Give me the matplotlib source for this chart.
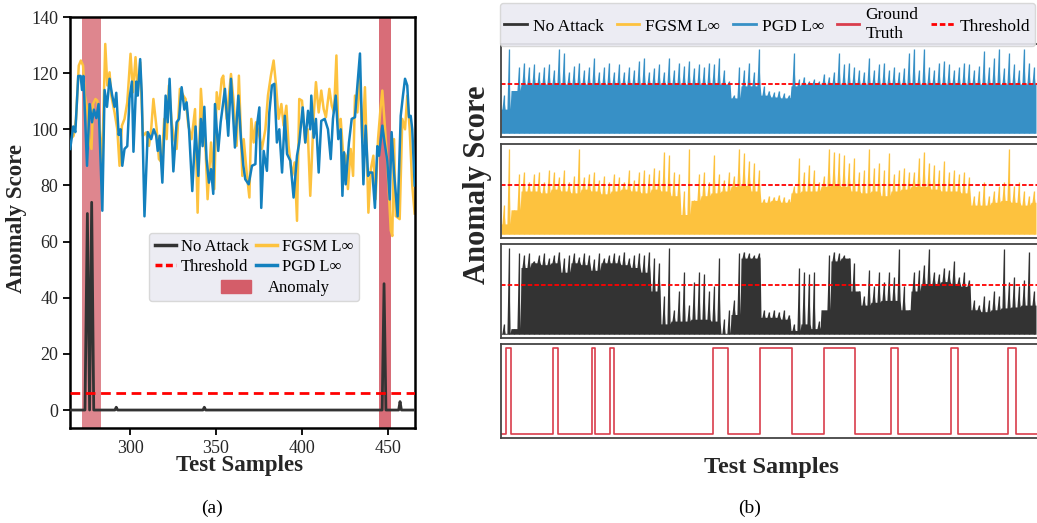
import numpy as np
import matplotlib.pyplot as plt
from matplotlib.lines import Line2D
from matplotlib.patches import Patch

plt.rcParams['font.family'] = ['Liberation Serif', 'DejaVu Serif']

# ---------------- panel (a): samples 265-466 ----------------
no_attack = [(265, 0), (273.8, 0), (275.2, 70), (276.5, 0), (277.7, 74), (278.9, 0),
             (291.2, 0), (292, 1), (292.8, 0), (342.4, 0), (343.2, 1), (344, 0),
             (446.6, 0), (447.7, 45), (448.8, 0), (456.2, 0), (457, 3), (457.8, 0), (467, 0)]

fgsm_a = [(265.5, 96.5), (267.2, 97.7), (268.6, 103.7), (270.2, 122.7), (271.4, 124.5), (272.7, 122.7),
          (273.7, 112), (275.2, 107.2), (276.2, 96.5), (277.6, 93), (278.5, 109), (279.9, 110.8),
          (281.0, 110.2), (282.4, 100), (283.7, 85.8), (285.6, 130.4), (286.8, 115.6), (288.1, 120.3),
          (289.1, 112), (291.0, 106), (292.6, 100), (293.9, 87), (295.3, 101.3), (296.8, 103.7),
          (298.4, 109.6), (300.3, 126.9), (301.7, 113.2), (303.2, 125.7), (304.5, 113.2), (305.9, 123.9),
          (307.5, 97.7), (309.4, 98.9), (311.0, 94.1), (312.3, 100), (313.6, 110.8), (315.5, 100),
          (316.8, 89.4), (318.4, 88.2), (319.9, 103.7), (321.3, 96.5), (322.6, 115.6), (324.2, 102.5),
          (325.7, 96.5), (327.1, 93), (329.0, 114.4), (331.0, 112), (332.3, 110.8), (333.9, 101.3),
          (335.8, 96.5), (337.8, 107.2), (339.3, 70.3), (341.2, 114.4), (342.6, 101.3), (344.0, 91.8),
          (345.1, 75.1), (347.1, 95.3), (349.0, 78.7), (350.4, 113.2), (351.7, 107.2), (353.3, 118),
          (354.2, 119.1), (356.2, 103.7), (358.7, 119.7), (360.1, 110.8), (362.0, 94.1), (363.3, 119.1),
          (365.3, 83.4), (366.1, 96.5), (368.0, 83.4), (369.4, 75.7), (370.5, 103.7), (371.9, 95.3),
          (373.2, 102.5), (374.8, 98.9), (376.7, 93), (378.7, 100), (380.2, 112), (381.9, 119.1),
          (383.5, 124.5), (384.9, 115.6), (386.4, 103.7), (388.0, 109), (389.3, 101.3), (390.9, 108.4),
          (392.2, 94.1), (394.2, 83.4), (395.7, 88.2), (397.1, 67.4), (398.4, 110.8), (400.0, 110.2),
          (401.9, 95.3), (403.3, 100), (404.8, 76.3), (406.8, 104.8), (408.1, 116.8), (409.7, 106),
          (411.2, 113.8), (412.6, 107.2), (413.9, 104.3), (415.9, 114.4), (417.3, 108.4), (418.6, 106),
          (420.0, 126.3), (421.1, 100), (422.5, 103.7), (423.8, 92.3), (425.4, 90.6), (426.7, 78.7),
          (428.3, 93), (429.7, 83.4), (430.8, 112), (432.2, 106), (433.5, 120.3), (435.1, 95.3),
          (436.6, 115), (437.6, 94.1), (438.6, 70.3), (440.0, 85.8), (441.5, 90.6), (442.8, 75.1),
          (444.2, 96.5), (445.7, 107.8), (446.7, 113.8), (448.3, 100), (449.6, 88.2), (451.6, 64),
          (452.5, 62), (453.5, 96.5), (454.5, 69.1), (456.8, 68), (458.3, 103.7), (459.9, 100),
          (461.2, 112), (462.6, 100), (464.1, 80), (465.5, 70)]

pgd_a = [(265.2, 93), (267.0, 101), (268.2, 99), (269.9, 119), (271.3, 119), (272.1, 114),
         (272.9, 119), (275.0, 87), (276.5, 109), (277.9, 102.5), (279.0, 107), (280.4, 104),
         (281.7, 109), (283.9, 71), (285.2, 114), (286.6, 108), (288.1, 118), (289.5, 112.5),
         (291.0, 108), (292.0, 113), (293.4, 98), (294.5, 100), (295.5, 87), (296.8, 93),
         (298.4, 94), (299.7, 111), (301.1, 117), (302.0, 92), (303.6, 117), (304.5, 112),
         (305.9, 125), (306.8, 113), (308.4, 69), (310.3, 99), (312.3, 96.5), (313.8, 100),
         (315.2, 97.7), (316.1, 92.3), (317.2, 97.7), (318.8, 81), (320.7, 112), (321.9, 102.5),
         (323.0, 118), (325.2, 85), (327.1, 102.5), (328.5, 103.7), (330.0, 115), (331.6, 107),
         (332.9, 109.6), (334.3, 100), (336.2, 78), (338.1, 101), (339.7, 83.4), (341.2, 103.7),
         (342.2, 94), (343.2, 108), (344.5, 89.4), (345.9, 81), (347.1, 85.8), (348.4, 77),
         (349.4, 109), (351.3, 92.3), (352.7, 102.5), (355.2, 114.4), (357.1, 97.7), (358.7, 118),
         (361.0, 93.5), (363.0, 112), (364.5, 96.5), (365.9, 87), (367.0, 82.2), (369.0, 80.4),
         (370.9, 87), (372.9, 87.6), (373.8, 101.3), (375.2, 107.8), (376.3, 72), (377.7, 92.3),
         (379.6, 85.2), (381.0, 106), (382.5, 115.6), (383.9, 116.2), (385.4, 95.3), (386.8, 100),
         (388.4, 84.6), (390.0, 104.8), (391.3, 91.2), (393.2, 88.8), (395.1, 75.7), (397.1, 90.6),
         (398.4, 95.3), (400.4, 107.8), (401.9, 95.3), (403.5, 106.6), (404.8, 100), (405.4, 112),
         (406.8, 97), (408.1, 103.7), (409.7, 84.6), (411.2, 103), (413.2, 103.7), (415.1, 100),
         (416.7, 89.4), (418.0, 103.7), (419.6, 112), (421.1, 96.5), (422.5, 100), (423.5, 76.3),
         (424.4, 91.8), (425.4, 80.4), (427.3, 95.3), (428.9, 103.7), (430.8, 104.3), (432.2, 115.6),
         (433.7, 127), (435.7, 80.4), (437.0, 101.3), (438.4, 83.4), (439.3, 84.6), (440.9, 84.6),
         (442.4, 72), (443.8, 94), (444.8, 90.6), (446.7, 101.3), (448.0, 95.3), (449.6, 88.8),
         (451.0, 75), (452.1, 99), (453.5, 84.6), (455.6, 69), (457.4, 104.8), (458.7, 112),
         (459.9, 118), (461.2, 115.6), (462.2, 104.3), (463.2, 104.8), (464.1, 100), (465.5, 80)]

threshold_a = 6
anomaly_a = [(272, 283), (444.5, 452)]

# ---------------- panel (b): whole test set ----------------
# scores normalised to [0, 1]; peaks every 25 samples, dense body level every 50 samples
pgd_peak = [0.45, 0.95, 0.35, 0.75, 0.8, 0.75, 0.78, 0.7, 0.75, 0.78, 0.72, 0.95, 0.9, 0.7, 0.76,
            0.8, 0.72, 0.75, 0.85, 0.7, 0.75, 0.8, 0.7, 0.78, 0.7, 0.75, 0.72, 0.82, 0.85, 0.7,
            0.74, 0.78, 0.7, 0.85, 0.72, 0.8, 0.76, 0.82, 0.74, 0.78, 0.75, 0.8, 0.78, 0.85, 0.72,
            0.6, 0.45, 0.75, 0.72, 0.8, 0.7, 0.95, 0.55, 0.5, 0.48, 0.5, 0.47, 0.45, 0.9, 0.62,
            0.65, 0.6, 0.62, 0.6, 0.68, 0.65, 0.7, 0.9, 0.78, 0.8, 0.75, 0.72, 0.7, 0.85, 0.72,
            0.78, 0.8, 0.72, 0.75, 0.7, 0.74, 0.9, 0.95, 0.72, 0.95, 0.75, 0.72, 0.8, 0.82, 0.78,
            0.72, 0.75, 0.8, 0.78, 0.72, 0.76, 0.92, 0.75, 0.85, 0.95, 0.74, 0.9, 0.78, 0.72, 0.95,
            0.8, 0.75]
pgd_body = [0.3, 0.5, 0.57, 0.57, 0.57, 0.57, 0.57, 0.57, 0.57, 0.57, 0.57, 0.57, 0.57, 0.57,
            0.57, 0.57, 0.57, 0.57, 0.57, 0.57, 0.57, 0.57, 0.57, 0.42, 0.55, 0.55, 0.45, 0.43,
            0.42, 0.55, 0.57, 0.57, 0.57, 0.57, 0.57, 0.57, 0.57, 0.57, 0.57, 0.57, 0.57, 0.57,
            0.57, 0.57, 0.57, 0.57, 0.57, 0.57, 0.57, 0.57, 0.57, 0.57, 0.57, 0.57]

fgsm_peak = [0.35, 0.95, 0.3, 0.68, 0.7, 0.6, 0.68, 0.7, 0.6, 0.72, 0.7, 0.65, 0.72, 0.6, 0.66,
             0.95, 0.65, 0.68, 0.7, 0.62, 0.66, 0.6, 0.68, 0.65, 0.6, 0.72, 0.62, 0.7, 0.72, 0.68,
             0.75, 0.72, 0.92, 0.88, 0.7, 0.68, 0.5, 0.95, 0.4, 0.68, 0.7, 0.6, 0.88, 0.68, 0.62,
             0.7, 0.66, 0.95, 0.9, 0.82, 0.8, 0.72, 0.42, 0.45, 0.44, 0.46, 0.44, 0.42, 0.55, 0.85,
             0.7, 0.78, 0.72, 0.6, 0.66, 0.95, 0.92, 0.9, 0.88, 0.8, 0.85, 0.7, 0.72, 0.95, 0.75,
             0.8, 0.72, 0.9, 0.68, 0.72, 0.74, 0.7, 0.7, 0.85, 0.92, 0.8, 0.78, 0.72, 0.82, 0.7,
             0.72, 0.68, 0.7, 0.65, 0.45, 0.5, 0.6, 0.45, 0.5, 0.55, 0.6, 0.95, 0.55, 0.6, 0.5,
             0.45, 0.5]
fgsm_body = [0.15, 0.3, 0.5, 0.5, 0.48, 0.52, 0.5, 0.48, 0.52, 0.5, 0.47, 0.5, 0.52, 0.5, 0.48,
             0.52, 0.5, 0.45, 0.25, 0.4, 0.45, 0.48, 0.5, 0.55, 0.56, 0.5, 0.38, 0.4, 0.38, 0.48,
             0.5, 0.5, 0.55, 0.56, 0.55, 0.5, 0.48, 0.5, 0.45, 0.5, 0.52, 0.55, 0.55, 0.52, 0.5,
             0.5, 0.48, 0.35, 0.35, 0.38, 0.4, 0.38, 0.35, 0.38]

clean_peak = [0.15, 0.96, 0.1, 0.9, 0.88, 0.9, 0.82, 0.88, 0.9, 0.85, 0.88, 0.92, 0.85, 0.88, 0.9,
              0.86, 0.9, 0.88, 0.84, 0.9, 0.85, 0.88, 0.9, 0.88, 0.92, 0.85, 0.88, 0.9, 0.88, 0.92,
              0.85, 0.8, 0.45, 0.96, 0.3, 0.5, 0.7, 0.35, 0.6, 0.7, 0.68, 0.5, 0.55, 0.85, 0.2,
              0.3, 0.4, 0.9, 0.92, 0.9, 0.88, 0.9, 0.3, 0.28, 0.3, 0.28, 0.3, 0.25, 0.15, 0.75,
              0.7, 0.68, 0.7, 0.18, 0.2, 0.88, 0.92, 0.9, 0.88, 0.85, 0.8, 0.5, 0.45, 0.72, 0.55,
              0.7, 0.6, 0.7, 0.65, 0.95, 0.55, 0.3, 0.7, 0.72, 0.78, 0.95, 0.7, 0.68, 0.75, 0.72,
              0.82, 0.65, 0.7, 0.62, 0.4, 0.35, 0.45, 0.4, 0.5, 0.45, 0.95, 0.6, 0.65, 0.55, 0.62,
              0.92, 0.5]
clean_body = [0.05, 0.1, 0.75, 0.8, 0.78, 0.8, 0.7, 0.8, 0.78, 0.72, 0.8, 0.8, 0.78, 0.75, 0.7,
              0.5, 0.15, 0.18, 0.18, 0.2, 0.2, 0.18, 0.05, 0.25, 0.85, 0.85, 0.22, 0.22, 0.2, 0.08,
              0.15, 0.1, 0.3, 0.82, 0.85, 0.5, 0.35, 0.38, 0.4, 0.4, 0.3, 0.5, 0.58, 0.58, 0.6,
              0.58, 0.55, 0.3, 0.28, 0.3, 0.32, 0.33, 0.35, 0.35]

score_floor = 0.04
threshold_b = [0.57, 0.56, 0.565]
gt_segments = [(27, 49.5), (259, 283.5), (456, 472), (547, 562.5), (1061.5, 1136.5),
               (1293.5, 1452.5), (1614.5, 1771.5), (1951.5, 1986), (2251.5, 2283), (2535.5, 2576)]
n_samples = 2695
peak_step, body_step = 25, 50

C_BLUE = '#1380be'
C_BLUE_B = '#3790c6'
C_YEL = '#fdc23e'
C_BLACK = '#333333'
C_SPAN = '#d45d69'
C_GT = '#d93d4c'
C_TXT = '#262626'

W, H = 1037, 523
fig = plt.figure(figsize=(W / 100, H / 100), dpi=100)


def box(l, t, r, b):
    return [l / W, 1 - b / H, (r - l) / W, (b - t) / H]


# ---- (a) ----
ax = fig.add_axes(box(70, 17, 415, 428))
for (s, e), a in zip(anomaly_a, (0.75, 0.9)):
    ax.axvspan(s, e, color=C_SPAN, alpha=a, lw=0, zorder=1)
x, y = np.array(fgsm_a).T
ax.plot(x, y, color=C_YEL, lw=1.8, zorder=2)
x, y = np.array(pgd_a).T
ax.plot(x, y, color=C_BLUE, lw=1.8, zorder=3)
x, y = np.array(no_attack).T
ax.plot(x, y, color=C_BLACK, lw=2.0, zorder=4)
ax.axhline(threshold_a, color='red', lw=2.0, ls=(0, (3.5, 2)), zorder=5)
ax.set_xlim(265.1, 465.7)
ax.set_ylim(-6.4, 140)
ax.set_xticks([300, 350, 400, 450])
ax.set_yticks(range(0, 141, 20))
ax.tick_params(direction='out', length=5, width=1.3, labelsize=13, labelcolor=C_TXT)
for sp in ax.spines.values():
    sp.set_linewidth(1.8)

blank = Line2D([], [], alpha=0)
h1 = [Line2D([], [], color=C_BLACK, lw=2.5), Line2D([], [], color='red', lw=2.5, ls=(0, (2, 1))), blank,
      Line2D([], [], color=C_YEL, lw=2.5), Line2D([], [], color=C_BLUE, lw=2.5), blank]
l1 = ['No Attack', 'Threshold', ' ', 'FGSM L∞', 'PGD L∞', ' ']
leg = ax.legend(h1, l1, ncol=2, loc='upper left', bbox_to_anchor=((149 - 70) / 345, (428 - 233) / 411),
                borderaxespad=0, fontsize=12, handlelength=1.25, handletextpad=0.3, columnspacing=0.45,
                labelspacing=0.25, borderpad=0.35, facecolor='#eaeaf2', edgecolor='#d5d5d5', framealpha=0.9)
ax.add_artist(leg)
ax.legend([Patch(color=C_SPAN)], ['Anomaly'], loc='center left',
          bbox_to_anchor=((221 - 70) / 345, (428 - 288) / 411), frameon=False, fontsize=12,
          handlelength=1.8, handleheight=0.85, handletextpad=1.0, borderaxespad=0, borderpad=0)

fig.text(17 / W, 1 - 218 / H, 'Anomaly Score', rotation=90, ha='center', va='center',
         fontsize=16.5, fontweight='bold', color=C_TXT)
fig.text(239 / W, 1 - 466 / H, 'Test Samples', ha='center', va='center',
         fontsize=16.5, fontweight='bold', color=C_TXT)
fig.text(212 / W, 1 - 508 / H, '(a)', ha='center', va='center', fontsize=14)

# ---- (b) ----
rows = [(pgd_peak, pgd_body, C_BLUE_B, 44, 137),
        (fgsm_peak, fgsm_body, C_YEL, 144, 238),
        (clean_peak, clean_body, C_BLACK, 244, 338)]
half = 8  # half width of one spike, in samples
for (peak, body, c, t, b), thr in zip(rows, threshold_b):
    axb = fig.add_axes(box(501, t, 1040, b))
    # envelope: dense body level, with a narrow spike up to each peak value
    env_x, env_y = [], []
    for k, p in enumerate(peak):
        x0 = k * peak_step
        xc = x0 + peak_step / 2
        lvl = body[min(int(xc // body_step), len(body) - 1)]
        env_x += [x0, xc - half, xc, xc + half]
        env_y += [lvl, lvl, max(p, lvl), lvl]
    env_x.append(len(peak) * peak_step)
    env_y.append(body[-1])
    axb.fill_between(env_x, score_floor, env_y, color=c, lw=0)
    axb.vlines(np.arange(len(peak)) * peak_step + peak_step / 2, score_floor, peak, color=c, lw=0.9)
    axb.axhline(thr, color='red', lw=1.3, ls=(0, (2.5, 1.2)))
    axb.set_xlim(0, n_samples)
    axb.set_ylim(0, 1)
    axb.set_xticks([])
    axb.set_yticks([])
    for sp in axb.spines.values():
        sp.set_color('#444444')
        sp.set_linewidth(1.3)

axg = fig.add_axes(box(501, 344, 1040, 438))
gx, gy = [0], [0]
for s, e in gt_segments:
    gx += [s, s, e, e]
    gy += [0, 1, 1, 0]
gx.append(n_samples)
gy.append(0)
axg.plot(gx, gy, color=C_GT, lw=1.2)
axg.set_xlim(0, n_samples)
axg.set_ylim(-0.045, 1.045)
axg.set_xticks([])
axg.set_yticks([])
for sp in axg.spines.values():
    sp.set_color('#444444')
    sp.set_linewidth(1.3)

h2 = [Line2D([], [], color=C_BLACK, lw=2), Line2D([], [], color=C_YEL, lw=2),
      Line2D([], [], color=C_BLUE_B, lw=2), Line2D([], [], color=C_GT, lw=2),
      Line2D([], [], color='red', lw=2, ls=(0, (2, 1)))]
l2 = ['No Attack', 'FGSM L∞', 'PGD L∞', 'Ground\nTruth', 'Threshold']
fig.legend(h2, l2, ncol=5, loc='upper left', mode='expand',
           bbox_to_anchor=(500 / W, 1 - 40 / H, 535 / W, 37 / H), borderaxespad=0,
           fontsize=12.5, handlelength=1.3, handletextpad=0.35, columnspacing=0.8, borderpad=0.25,
           labelspacing=0.1, facecolor='#eaeaf2', edgecolor='#d5d5d5', framealpha=0.9)

fig.text(478 / W, 1 - 185 / H, 'Anomaly Score', rotation=90, ha='center', va='center',
         fontsize=22, fontweight='bold', color=C_TXT)
fig.text(771 / W, 1 - 468 / H, 'Test Samples', ha='center', va='center',
         fontsize=17.5, fontweight='bold', color=C_TXT)
fig.text(750 / W, 1 - 508 / H, '(b)', ha='center', va='center', fontsize=14)

fig.savefig('out.png', dpi=100)
